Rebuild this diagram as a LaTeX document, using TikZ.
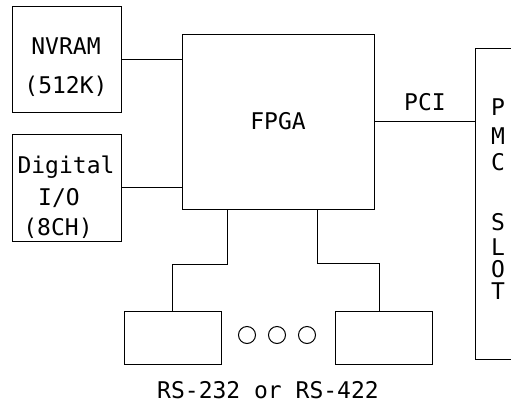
\documentclass[tikz,border=0pt]{standalone}
\usepackage{fontspec}
\newfontfamily\monofont{DejaVu Sans Mono}
\begin{document}
\begin{tikzpicture}[x=1pt,y=-1pt,
  box/.style={draw=black,line width=1pt,rectangle,inner sep=0pt},
  lbl/.style={font=\monofont\fontsize{23}{26}\selectfont,inner sep=0pt,text height=16.8pt,text depth=0pt},
  wire/.style={draw=black,line width=1pt},
  dot/.style={draw=black,line width=1pt,circle,minimum size=17pt,inner sep=0pt}]
\useasboundingbox (0,0) rectangle (511,410);
\clip (0,0) rectangle (511,410);
\fill[white] (0,0) rectangle (511,410);
% boxes
\node[box,minimum width=109pt,minimum height=106pt] (nv) at (66.5,59) {};
\node[box,minimum width=109pt,minimum height=107pt] (dio) at (66.5,187.5) {};
\node[box,minimum width=192pt,minimum height=175pt,lbl] (fpga) at (278,121.5) {FPGA};
\node[box,minimum width=60pt,minimum height=311pt] (pmc) at (505,203.5) {};
\node[box,minimum width=97pt,minimum height=53pt] (rs1) at (172.5,337.5) {};
\node[box,minimum width=97pt,minimum height=53pt] (rs2) at (383.5,337.5) {};
% texts
\node[lbl] (t1) at (66,46) {NVRAM};
\node[lbl] (t2) at (66,85) {(512K)};
\node[lbl] (t3) at (66,165) {Digital};
\node[lbl] (t4) at (59,197) {I/O};
\node[lbl] (t5) at (58,227) {(8CH)};
\node[lbl] (pci) at (425,102) {PCI};
\node[lbl] (p1) at (498,107) {P};
\node[lbl] (p2) at (498,136) {M};
\node[lbl] (p3) at (498,162) {C};
\node[lbl] (p4) at (498,222) {S};
\node[lbl] (p5) at (498,247) {L};
\node[lbl] (p6) at (498,269) {O};
\node[lbl] (p7) at (498,291) {T};
\node[lbl] (rs) at (268,390) {RS-232 or RS-422};
% dots
\node[dot] (d1) at (247,335) {};
\node[dot] (d2) at (277,335) {};
\node[dot] (d3) at (307,335) {};
% connectors
\draw[wire] (nv.east) -- (nv.east -| fpga.west);
\draw[wire] (dio.east) -- (dio.east -| fpga.west);
\draw[wire] (fpga.east) -- (fpga.east -| pmc.west);
\coordinate (b1) at (227,209);
\coordinate (b2) at (317,209);
\draw[wire] (b1 |- fpga.south) -- (227,264) -| (rs1.north);
\draw[wire] (b2 |- fpga.south) -- (317,263) -- (379,263) -- (379,0 |- rs2.north);
\end{tikzpicture}
\end{document}
